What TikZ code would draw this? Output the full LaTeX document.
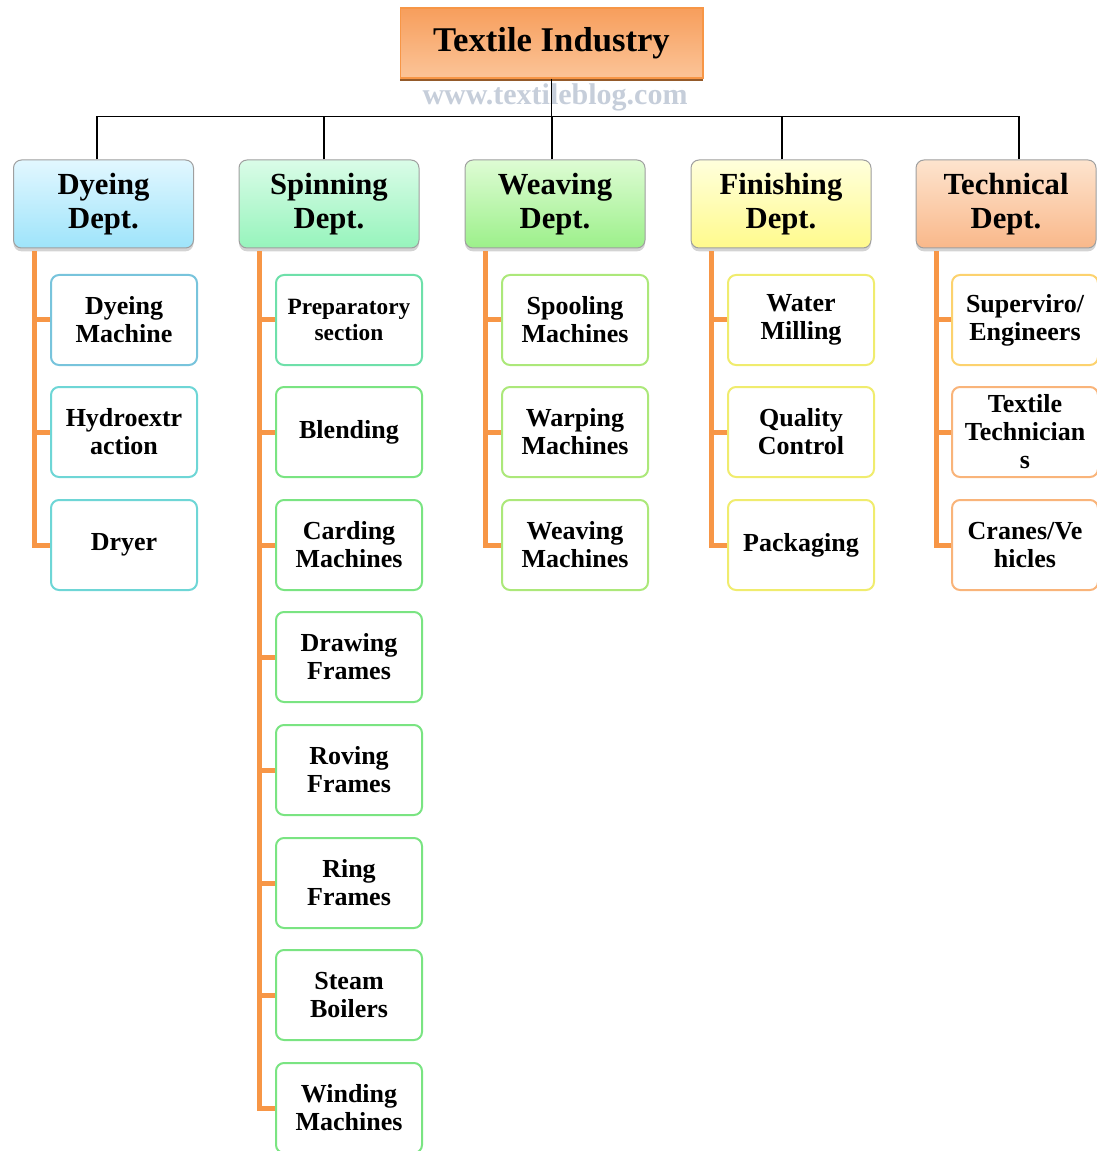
\documentclass[tikz,border=0pt]{standalone}
\usepackage{fontspec}
\setmainfont{Liberation Serif}
\usetikzlibrary{shadows,calc}
\definecolor{orline}{RGB}{247,150,70}
\definecolor{wmark}{RGB}{198,206,218}
\definecolor{hAt}{RGB}{226,247,255}\definecolor{hAb}{RGB}{158,228,250}
\definecolor{hBt}{RGB}{218,252,232}\definecolor{hBb}{RGB}{150,244,188}
\definecolor{hCt}{RGB}{222,252,212}\definecolor{hCb}{RGB}{156,240,138}
\definecolor{hDt}{RGB}{255,255,220}\definecolor{hDb}{RGB}{255,250,140}
\definecolor{hEt}{RGB}{253,228,206}\definecolor{hEb}{RGB}{249,184,138}
\definecolor{tTop}{RGB}{247,158,92}\definecolor{tBot}{RGB}{251,196,152}
\definecolor{bA1}{RGB}{120,196,220}\definecolor{bA}{RGB}{110,214,214}
\definecolor{bB1}{RGB}{110,224,170}\definecolor{bB}{RGB}{122,228,130}
\definecolor{bC}{RGB}{172,232,122}
\definecolor{bD}{RGB}{240,236,110}
\definecolor{bE1}{RGB}{252,210,110}\definecolor{bE}{RGB}{249,180,122}
\begin{document}
\begin{tikzpicture}[x=0.75pt,y=-0.75pt,
  hdr/.style={draw=gray!75, line width=0.75pt, rounded corners=6pt,
    minimum width=135pt, minimum height=66pt, align=center,
    font=\bfseries\fontsize{23}{25}\selectfont,
    drop shadow={shadow xshift=0pt,shadow yshift=-2.5pt,opacity=0.35}},
  item/.style={draw, line width=1.5pt, rounded corners=6pt, fill=white,
    minimum width=109.5pt, minimum height=67.5pt, align=center,
    font=\bfseries\fontsize{19.5}{21}\selectfont},
  conn/.style={draw=orline, line width=3.75pt},
  bus/.style={draw=black, line width=1.3pt}]
\useasboundingbox (0,0) rectangle (1096,1151);
% title
\node[draw=orline, line width=1pt, top color=tTop, bottom color=tBot,
  minimum width=227pt, minimum height=52.5pt,
  font=\bfseries\fontsize{26}{28}\selectfont,
  drop shadow={shadow xshift=0pt,shadow yshift=-2pt,fill=orline!60!black,opacity=1}]
  (t) at (551.5,43) {Textile Industry};
\node[text=wmark, font=\bfseries\fontsize{22.5}{24}\selectfont] (w) at (555,97) {www.textileblog.com};
% headers
\node[hdr, top color=hAt, bottom color=hAb] (h1) at (103.5,204) {Dyeing\\Dept.};
\node[hdr, top color=hBt, bottom color=hBb] (h2) at (329,204) {Spinning\\Dept.};
\node[hdr, top color=hCt, bottom color=hCb] (h3) at (555,204) {Weaving\\Dept.};
\node[hdr, top color=hDt, bottom color=hDb] (h4) at (781,204) {Finishing\\Dept.};
\node[hdr, top color=hEt, bottom color=hEb] (h5) at (1006,204) {Technical\\Dept.};
% bus
\draw[bus] (t.south) -- ++(0,39);
\draw[bus] ($(h1.north)+(-6.5,0)$) -- ++(0,-43) -- ($(h5.north)+(13,-43)$) -- ($(h5.north)+(13,0)$);
\draw[bus] ($(h2.north)+(-5,0)$) -- ++(0,-43);
\draw[bus] ($(h3.north)+(-3,0)$) -- ++(0,-43);
\draw[bus] ($(h4.north)+(1,0)$) -- ++(0,-43);
% children
\node[item, draw=bA1] (c11) at (124,320) {Dyeing\\Machine};
\node[item, draw=bA] (c12) at (124,432) {Hydroextr\\action};
\node[item, draw=bA] (c13) at (124,545) {Dryer};
\node[item, draw=bB1, font=\bfseries\fontsize{17.5}{19.5}\selectfont] (c21) at (349,320) {Preparatory\\section};
\node[item, draw=bB] (c22) at (349,432) {Blending};
\node[item, draw=bB] (c23) at (349,545) {Carding\\Machines};
\node[item, draw=bB] (c24) at (349,657) {Drawing\\Frames};
\node[item, draw=bB] (c25) at (349,770) {Roving\\Frames};
\node[item, draw=bB] (c26) at (349,883) {Ring\\Frames};
\node[item, draw=bB] (c27) at (349,995) {Steam\\Boilers};
\node[item, draw=bB] (c28) at (349,1108) {Winding\\Machines};
\node[item, draw=bC] (c31) at (575,320) {Spooling\\Machines};
\node[item, draw=bC] (c32) at (575,432) {Warping\\Machines};
\node[item, draw=bC] (c33) at (575,545) {Weaving\\Machines};
\node[item, draw=bD] (c41) at (801,320) {Water\\Milling};
\node[item, draw=bD] (c42) at (801,432) {Quality\\Control};
\node[item, draw=bD] (c43) at (801,545) {Packaging};
\node[item, draw=bE1] (c51) at (1025,320) {Superviro/\\Engineers};
\node[item, draw=bE] (c52) at (1025,432) {Textile\\Technician\\s};
\node[item, draw=bE] (c53) at (1025,545) {Cranes/Ve\\hicles};
% orange connectors
\coordinate (v1) at ($(h1.south west)+(21,3)$);
\coordinate (v2) at ($(h2.south west)+(21,3)$);
\coordinate (v3) at ($(h3.south west)+(21,3)$);
\coordinate (v4) at ($(h4.south west)+(21,3)$);
\coordinate (v5) at ($(h5.south west)+(21,3)$);
\draw[conn] (v1) |- (c13.west);
\draw[conn] (c11.west) -- (c11.west -| v1);
\draw[conn] (c12.west) -- (c12.west -| v1);
\draw[conn] (v2) |- (c28.west);
\foreach \c in {c21,c22,c23,c24,c25,c26,c27}{\draw[conn] (\c.west) -- (\c.west -| v2);}
\draw[conn] (v3) |- (c33.west);
\draw[conn] (c31.west) -- (c31.west -| v3);
\draw[conn] (c32.west) -- (c32.west -| v3);
\draw[conn] (v4) |- (c43.west);
\draw[conn] (c41.west) -- (c41.west -| v4);
\draw[conn] (c42.west) -- (c42.west -| v4);
\draw[conn] (v5) |- (c53.west);
\draw[conn] (c51.west) -- (c51.west -| v5);
\draw[conn] (c52.west) -- (c52.west -| v5);
\end{tikzpicture}
\end{document}
